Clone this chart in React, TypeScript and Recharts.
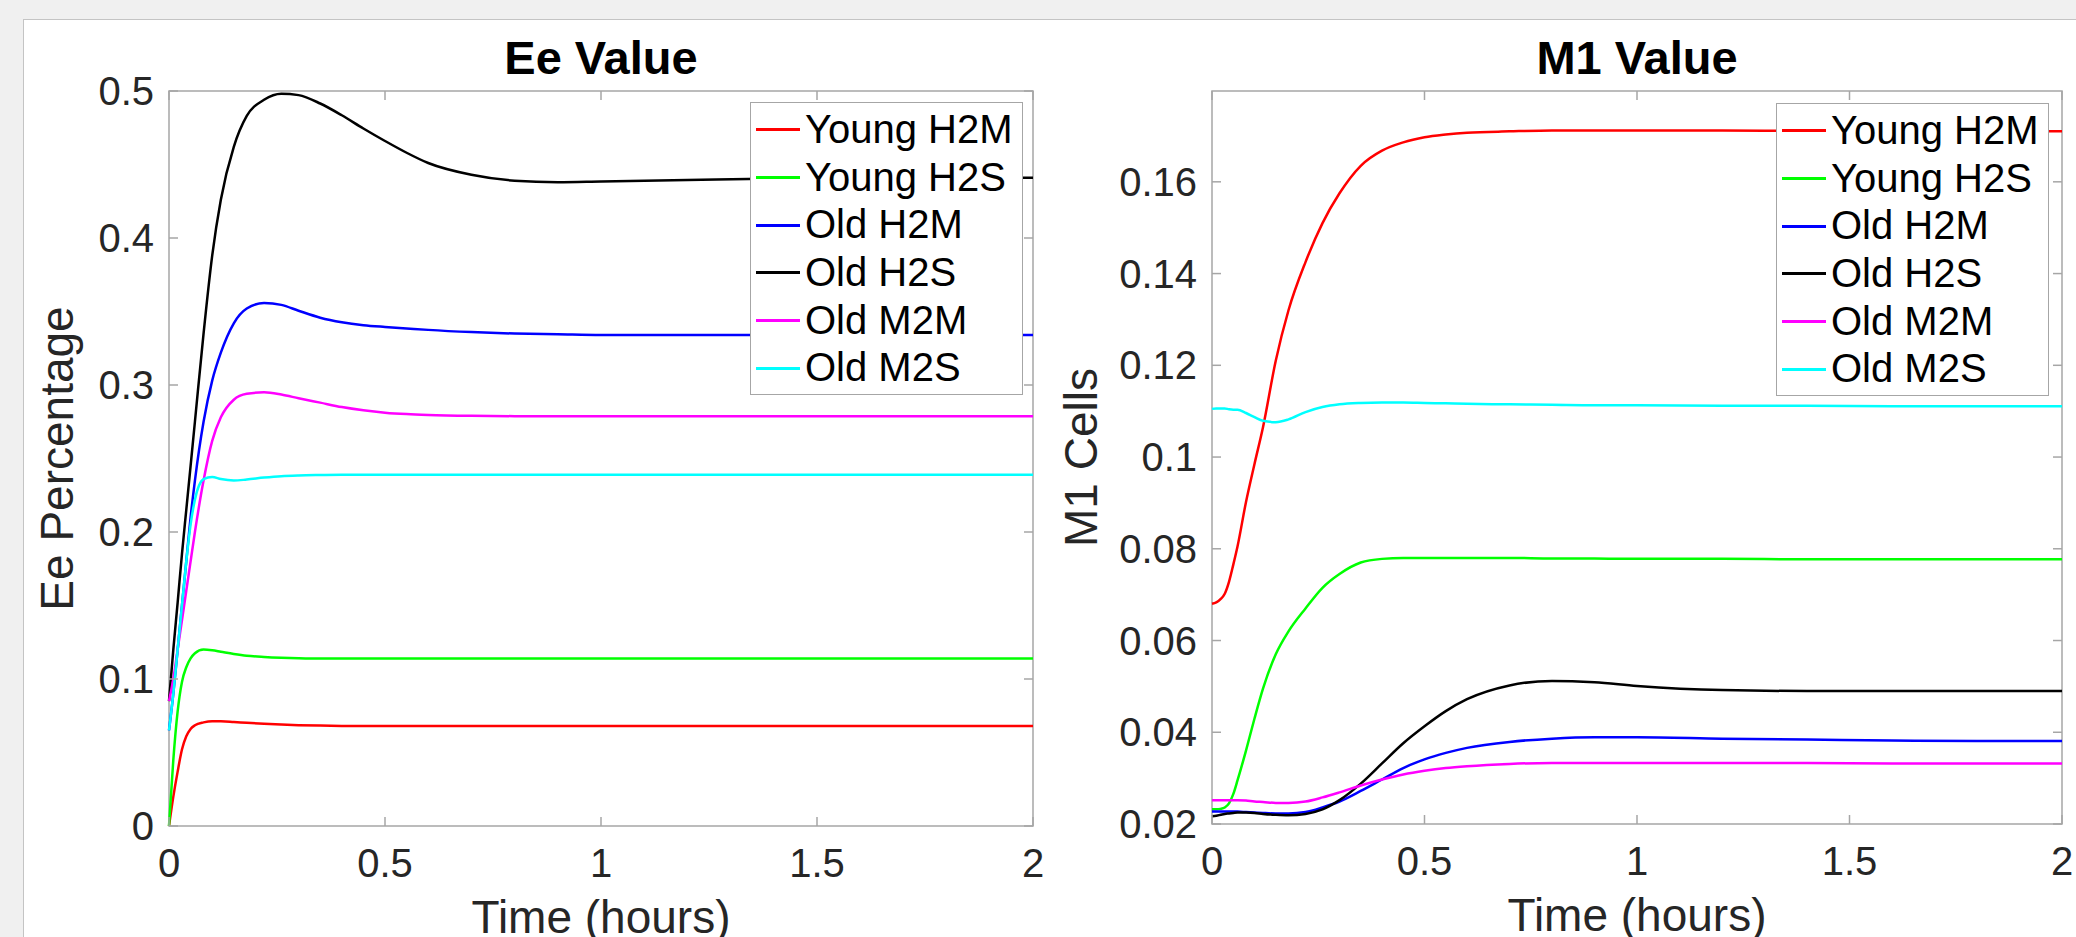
import React from "react";
import { LineChart, Line, XAxis, YAxis, ReferenceArea, Legend } from "recharts";

// time points (hours), denser near 0 where the curves move fast
const TIME = [0, 0.01, 0.02, 0.03, 0.04, 0.05, 0.06, 0.08, 0.1, 0.12, 0.15, 0.18, 0.22, 0.26, 0.3, 0.35, 0.4, 0.45, 0.5, 0.55, 0.6, 0.7, 0.8, 0.9, 1.0, 1.2, 1.4, 1.6, 1.8, 2.0];

const SERIES_NAMES = ["Young H2M", "Young H2S", "Old H2M", "Old H2S", "Old M2M", "Old M2S"];

// Ee percentage
const EE_YOUNG_H2M = [0, 0.02, 0.037, 0.052, 0.061, 0.066, 0.0685, 0.0705, 0.0713, 0.0713, 0.0708, 0.0702, 0.0695, 0.069, 0.0686, 0.0683, 0.0681, 0.068, 0.068, 0.068, 0.068, 0.068, 0.068, 0.068, 0.068, 0.068, 0.068, 0.068, 0.068, 0.068];
const EE_YOUNG_H2S = [0, 0.045, 0.078, 0.098, 0.108, 0.114, 0.1175, 0.12, 0.1195, 0.1185, 0.117, 0.1158, 0.115, 0.1145, 0.1142, 0.114, 0.114, 0.114, 0.114, 0.114, 0.114, 0.114, 0.114, 0.114, 0.114, 0.114, 0.114, 0.114, 0.114, 0.114];
const EE_OLD_H2M = [0.065, 0.09, 0.12, 0.15, 0.18, 0.21, 0.235, 0.275, 0.303, 0.322, 0.342, 0.352, 0.3558, 0.3545, 0.3505, 0.3458, 0.3427, 0.3407, 0.3395, 0.3385, 0.3375, 0.336, 0.335, 0.3345, 0.334, 0.334, 0.334, 0.334, 0.334, 0.334];
const EE_OLD_H2S = [0.085, 0.12, 0.152, 0.185, 0.215, 0.245, 0.275, 0.335, 0.388, 0.426, 0.462, 0.483, 0.494, 0.4982, 0.4972, 0.4915, 0.4835, 0.4745, 0.466, 0.458, 0.451, 0.443, 0.439, 0.438, 0.4385, 0.4395, 0.4405, 0.441, 0.441, 0.441];
const EE_OLD_M2M = [0.085, 0.1, 0.12, 0.14, 0.16, 0.18, 0.2, 0.235, 0.262, 0.278, 0.29, 0.294, 0.295, 0.2935, 0.291, 0.288, 0.285, 0.2828, 0.2812, 0.2802, 0.2796, 0.279, 0.2788, 0.2788, 0.2788, 0.2788, 0.2788, 0.2788, 0.2788, 0.2788];
const EE_OLD_M2S = [0.065, 0.09, 0.12, 0.15, 0.18, 0.205, 0.222, 0.236, 0.2375, 0.236, 0.235, 0.2357, 0.237, 0.238, 0.2385, 0.2388, 0.239, 0.239, 0.239, 0.239, 0.239, 0.239, 0.239, 0.239, 0.239, 0.239, 0.239, 0.239, 0.239, 0.239];

// M1 cells
const M1_YOUNG_H2M = [0.068, 0.0683, 0.069, 0.0702, 0.0728, 0.0765, 0.0805, 0.0902, 0.0985, 0.1065, 0.121, 0.132, 0.1425, 0.151, 0.1575, 0.1635, 0.1668, 0.1686, 0.1697, 0.1703, 0.1707, 0.171, 0.1712, 0.1712, 0.1712, 0.1712, 0.1711, 0.1711, 0.171, 0.171];
const M1_YOUNG_H2S = [0.0232, 0.0232, 0.0233, 0.0236, 0.0245, 0.0265, 0.0295, 0.036, 0.043, 0.0495, 0.057, 0.062, 0.067, 0.0715, 0.0745, 0.077, 0.0778, 0.078, 0.078, 0.078, 0.078, 0.078, 0.0779, 0.0779, 0.0778, 0.0778, 0.0777, 0.0777, 0.0777, 0.0777];
const M1_OLD_H2M = [0.0227, 0.0227, 0.0227, 0.0227, 0.0227, 0.0227, 0.0227, 0.0226, 0.0225, 0.0224, 0.0223, 0.0223, 0.0226, 0.0236, 0.0249, 0.0272, 0.0297, 0.0322, 0.0341, 0.0355, 0.0366, 0.0379, 0.0386, 0.0389, 0.0389, 0.0386, 0.0384, 0.0382, 0.0381, 0.0381];
const M1_OLD_H2S = [0.0217, 0.0218, 0.022, 0.0222, 0.0223, 0.0224, 0.0225, 0.0225, 0.0224, 0.0222, 0.022, 0.0219, 0.0222, 0.0232, 0.0252, 0.0288, 0.0332, 0.0376, 0.0413, 0.0446, 0.0472, 0.0502, 0.0512, 0.0509, 0.0501, 0.0492, 0.049, 0.049, 0.049, 0.049];
const M1_OLD_M2M = [0.0252, 0.0252, 0.0252, 0.0252, 0.0252, 0.0252, 0.0252, 0.0251, 0.0249, 0.0248, 0.0246, 0.0246, 0.0249, 0.0258, 0.0269, 0.0284, 0.0297, 0.0308, 0.0316, 0.0322, 0.0326, 0.0331, 0.0333, 0.0333, 0.0333, 0.0333, 0.0333, 0.0332, 0.0332, 0.0332];
const M1_OLD_M2S = [0.1105, 0.1106, 0.1106, 0.1106, 0.1104, 0.1103, 0.1103, 0.1096, 0.1087, 0.1079, 0.1076, 0.1082, 0.1098, 0.1109, 0.1115, 0.1118, 0.1119, 0.1119, 0.1118, 0.1117, 0.1116, 0.1115, 0.1114, 0.1113, 0.1113, 0.1112, 0.1112, 0.1111, 0.1111, 0.1111];

const X_TICKS = [0, 0.5, 1, 1.5, 2];
const EE_TICKS = [0, 0.1, 0.2, 0.3, 0.4, 0.5];
const M1_TICKS = [0.02, 0.04, 0.06, 0.08, 0.1, 0.12, 0.14, 0.16];

const KEYS = ["yh2m", "yh2s", "oh2m", "oh2s", "om2m", "om2s"];
const COLORS = ["#ff0000", "#00ff00", "#0000ff", "#000000", "#ff00ff", "#00ffff"];

function buildRows(cols: number[][]) {
  return TIME.map((t, i) => {
    const row: Record<string, number> = { t };
    KEYS.forEach((k, j) => (row[k] = cols[j][i]));
    return row;
  });
}

const eeData = buildRows([EE_YOUNG_H2M, EE_YOUNG_H2S, EE_OLD_H2M, EE_OLD_H2S, EE_OLD_M2M, EE_OLD_M2S]);
const m1Data = buildRows([M1_YOUNG_H2M, M1_YOUNG_H2S, M1_OLD_H2M, M1_OLD_H2S, M1_OLD_M2M, M1_OLD_M2S]);

const FONT = '"Liberation Sans", Arial, Helvetica, sans-serif';
const H = 937;
const BOX = "#a6a6a6";
const TXT = "#262626";
const TICK_LEN = 9;
const YAXIS_W = 150;
const XAXIS_H = 60;

type PanelProps = {
  data: Record<string, number>[];
  title: string;
  ylabel: string;
  yDomain: [number, number];
  yTicks: number[];
  left: number;
  width: number;
  plotLeft: number;
  plotRight: number;
  plotTop: number;
  plotBottom: number;
  legendLeft: number;
  legendTop: number;
  ylabelX: number;
};

function LegendBox({ payload }: any) {
  // keep the plotting order, recharts sorts by name otherwise
  const items = [...(payload || [])].sort(
    (a: any, b: any) => SERIES_NAMES.indexOf(a.value) - SERIES_NAMES.indexOf(b.value)
  );
  return (
    <div
      style={{
        width: 273,
        height: 293,
        boxSizing: "border-box",
        border: `1.5px solid ${BOX}`,
        background: "#fff",
        paddingTop: 3,
        fontFamily: FONT,
      }}
    >
      {items.map((p: any) => (
        <div key={p.value} style={{ display: "flex", alignItems: "center", height: 47.7 }}>
          <span style={{ display: "inline-block", width: 44, height: 3, background: p.color, marginLeft: 5, marginRight: 5 }} />
          <span style={{ fontSize: 40, color: "#000", lineHeight: "47.7px", whiteSpace: "nowrap" }}>{p.value}</span>
        </div>
      ))}
    </div>
  );
}

function Panel(p: PanelProps) {
  const cx = (p.plotLeft + p.plotRight) / 2;

  const xTick = (props: any) => {
    const { x, y, payload } = props;
    return (
      <g>
        <line x1={x} y1={y} x2={x} y2={y - TICK_LEN} stroke={BOX} strokeWidth={1.5} />
        <line x1={x} y1={p.plotTop} x2={x} y2={p.plotTop + TICK_LEN} stroke={BOX} strokeWidth={1.5} />
        <text x={x} y={y + 51} textAnchor="middle" fontSize={40} fill={TXT} fontFamily={FONT}>
          {String(payload.value)}
        </text>
      </g>
    );
  };

  const yTick = (props: any) => {
    const { x, y, payload } = props;
    return (
      <g>
        <line x1={x} y1={y} x2={x + TICK_LEN} y2={y} stroke={BOX} strokeWidth={1.5} />
        <line x1={p.plotRight - TICK_LEN} y1={y} x2={p.plotRight} y2={y} stroke={BOX} strokeWidth={1.5} />
        <text x={x - 15} y={y + 14} textAnchor="end" fontSize={40} fill={TXT} fontFamily={FONT}>
          {String(payload.value)}
        </text>
      </g>
    );
  };

  const xLabel = () => (
    <text x={cx} y={p.plotBottom + 107} textAnchor="middle" fontSize={46} fill={TXT} fontFamily={FONT}>
      Time (hours)
    </text>
  );

  const yLabel = () => {
    const cy = (p.plotTop + p.plotBottom) / 2;
    return (
      <text
        x={p.ylabelX}
        y={cy}
        transform={`rotate(-90 ${p.ylabelX} ${cy})`}
        textAnchor="middle"
        fontSize={46}
        fill={TXT}
        fontFamily={FONT}
      >
        {p.ylabel}
      </text>
    );
  };

  return (
    <div style={{ position: "absolute", left: p.left, top: 0, width: p.width, height: H }}>
      <div
        style={{
          position: "absolute",
          left: cx - 300,
          width: 600,
          top: 34,
          textAlign: "center",
          fontFamily: FONT,
          fontWeight: "bold",
          fontSize: 47,
          lineHeight: "47px",
          color: "#000",
          zIndex: 2,
        }}
      >
        {p.title}
      </div>
      <LineChart
        width={p.width}
        height={H}
        data={p.data}
        margin={{
          top: p.plotTop,
          bottom: H - p.plotBottom - XAXIS_H,
          left: p.plotLeft - YAXIS_W,
          right: p.width - p.plotRight,
        }}
      >
        <XAxis
          dataKey="t"
          type="number"
          domain={[0, 2]}
          ticks={X_TICKS}
          height={XAXIS_H}
          tickSize={0}
          tickMargin={0}
          axisLine={false}
          tick={xTick}
          label={xLabel}
          interval={0}
        />
        <YAxis
          type="number"
          domain={p.yDomain}
          allowDataOverflow
          ticks={p.yTicks}
          width={YAXIS_W}
          tickSize={0}
          tickMargin={0}
          axisLine={false}
          tick={yTick}
          label={yLabel}
          interval={0}
        />
        <ReferenceArea
          x1={0}
          x2={2}
          y1={p.yDomain[0]}
          y2={p.yDomain[1]}
          fill="none"
          stroke={BOX}
          strokeWidth={1.5}
          fillOpacity={0}
        />
        {KEYS.map((k, i) => (
          <Line
            key={k}
            dataKey={k}
            name={SERIES_NAMES[i]}
            type="monotone"
            stroke={COLORS[i]}
            strokeWidth={2.5}
            dot={false}
            activeDot={false}
            isAnimationActive={false}
          />
        ))}
        <Legend
          layout="vertical"
          align="center"
          verticalAlign="middle"
          content={<LegendBox />}
          wrapperStyle={{ left: p.legendLeft, top: p.legendTop, width: 273, height: 293 }}
        />
      </LineChart>
    </div>
  );
}

export default function App() {
  return (
    <div style={{ position: "absolute", left: 0, top: 0, width: 2076, height: H, background: "#f0f0f0", overflow: "hidden" }}>
      <div
        style={{
          position: "absolute",
          left: 23,
          top: 19,
          right: 0,
          bottom: 0,
          background: "#fff",
          borderTop: "1.5px solid #c4c4c4",
          borderLeft: "1.5px solid #c4c4c4",
        }}
      />
      <Panel
        data={eeData}
        title="Ee Value"
        ylabel="Ee Percentage"
        yDomain={[0, 0.5]}
        yTicks={EE_TICKS}
        left={0}
        width={1060}
        plotLeft={169}
        plotRight={1033}
        plotTop={91}
        plotBottom={826}
        legendLeft={750}
        legendTop={102}
        ylabelX={73}
      />
      <Panel
        data={m1Data}
        title="M1 Value"
        ylabel="M1 Cells"
        yDomain={[0.02, 0.1798]}
        yTicks={M1_TICKS}
        left={1040}
        width={1036}
        plotLeft={172}
        plotRight={1022}
        plotTop={91}
        plotBottom={824}
        legendLeft={736}
        legendTop={103}
        ylabelX={57}
      />
    </div>
  );
}
